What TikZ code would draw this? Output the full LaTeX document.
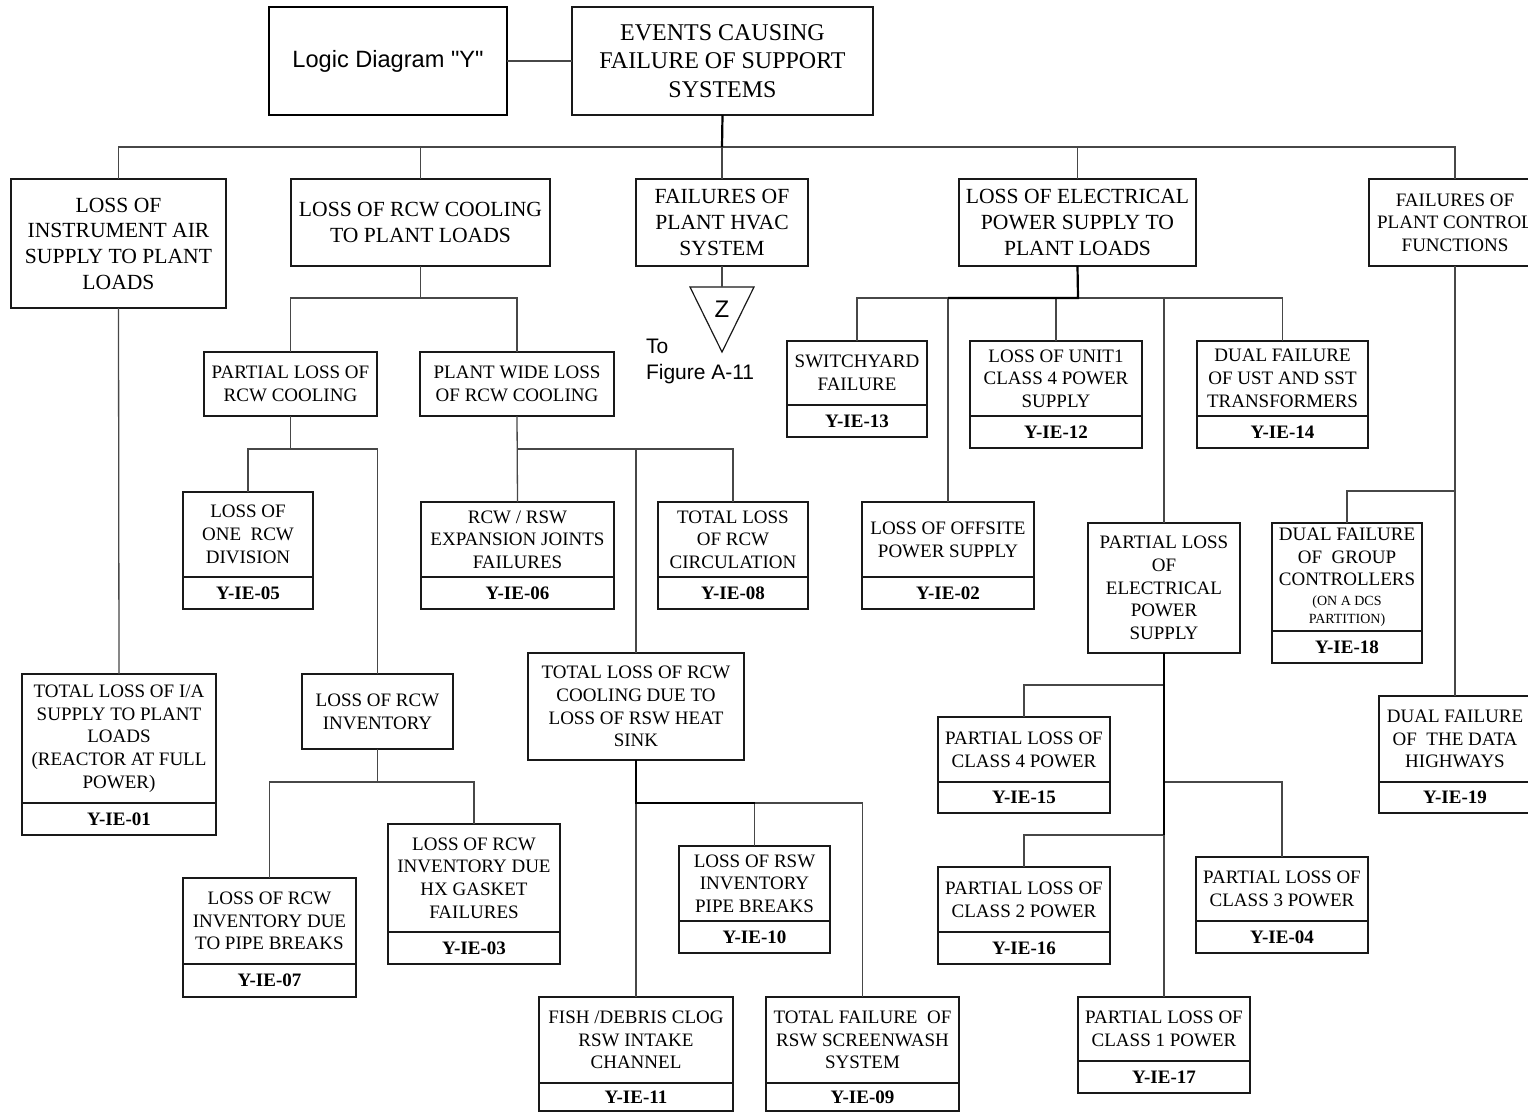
\documentclass[tikz,border=0pt]{standalone}
\usepackage{fontspec}
\setmainfont{Liberation Serif}
\newfontfamily\arialfont{Liberation Sans}

% plain event box: style, name, x1, y1, x2, y2, text
\newcommand\plainbox[7]{%
  \node[frame,#1,minimum width={#5-#3},minimum height={#6-#4}]
    (#2) at ({(#3+#5)/2},{(#4+#6)/2}) {#7};}
% event box with identifier row: name, x1, y1, x2, ydiv, y2, text, id
\newcommand\idevbox[8]{%
  \node[frame,mid,minimum width={#4-#2},minimum height={#5-#3}]
    (#1) at ({(#2+#4)/2},{(#3+#5)/2}) {#7};
  \node[frame,idtext,minimum width={#4-#2},minimum height={#6-#5}]
    (#1-id) at ({(#2+#4)/2},{(#5+#6)/2}) {#8};}

\begin{document}
\begin{tikzpicture}[x=1pt,y=-1pt,
  every node/.style={inner sep=0pt,outer sep=0pt},
  frame/.style={draw=black!90,line width=1.2pt,align=center,fill=white},
  huge/.style={font=\fontsize{24}{28.5}\selectfont},
  big/.style={font=\fontsize{21.6}{25.7}\selectfont},
  mid/.style={font=\fontsize{19}{22.7}\selectfont},
  idtext/.style={font=\fontsize{19}{22}\selectfont\bfseries},
  link/.style={draw=black!72,line width=1.3pt},
  trunk/.style={draw=black,line width=2.2pt},
]
\useasboundingbox (0,0) rectangle (1528,1112);
\clip (0,0) rectangle (1528,1112);

% ---------- connectors (drawn first, boxes cover their ends) ----------
\coordinate (bus) at (722,147);
\coordinate (jr) at (420.5,298);
\coordinate (jp) at (290.5,449);
\coordinate (ji) at (377.5,782);
\coordinate (jw) at (517,449);
\coordinate (jh) at (636,803);
\coordinate (zt) at (722,287);
\coordinate (je) at (1078,298);
\coordinate (j4) at (1164,685);
\coordinate (j3) at (1164,782);
\coordinate (j2) at (1164,835);
\coordinate (jc) at (1455,491);

% ---------- top ----------
\node[draw=black,line width=2pt,minimum width=238,minimum height=108,
      font=\arialfont\fontsize{23.6}{28}\selectfont]
  (logic) at (388,61) {Logic Diagram "Y"};
\plainbox{huge}{events}{572}{7}{873}{115}{EVENTS CAUSING\\FAILURE OF SUPPORT\\SYSTEMS}

% ---------- first level ----------
\plainbox{big}{air}{11}{179}{226}{308}{LOSS OF\\INSTRUMENT AIR\\SUPPLY TO PLANT\\LOADS}
\plainbox{big}{rcw}{291}{179}{550}{266}{LOSS OF RCW COOLING\\TO PLANT LOADS}
\plainbox{big}{hvac}{636}{179}{808}{266}{FAILURES OF\\PLANT HVAC\\SYSTEM}
\plainbox{big}{elec}{959}{179}{1196}{266}{LOSS OF ELECTRICAL\\POWER SUPPLY TO\\PLANT LOADS}
\plainbox{mid}{pc}{1369}{179}{1541}{266}{FAILURES OF\\PLANT CONTROL\\FUNCTIONS}

% ---------- instrument air ----------
\idevbox{tia}{22}{674}{216}{803}{835}{TOTAL LOSS OF I/A\\SUPPLY TO PLANT\\LOADS\\(REACTOR AT FULL\\POWER)}{Y-IE-01}

% ---------- RCW cooling ----------
\plainbox{mid}{prcw}{204}{352}{377}{416}{PARTIAL LOSS OF\\RCW COOLING}
\plainbox{mid}{pw}{420}{352}{614}{416}{PLANT WIDE LOSS\\OF RCW COOLING}
\idevbox{div}{183}{492}{313}{577}{609}{LOSS OF\\ONE\ \ RCW\\DIVISION}{Y-IE-05}
\plainbox{mid}{inv}{302}{674}{453}{749}{LOSS OF RCW\\INVENTORY}
\idevbox{pipe}{183}{878}{356}{964}{997}{LOSS OF RCW\\INVENTORY DUE\\TO PIPE BREAKS}{Y-IE-07}
\idevbox{hx}{388}{824}{560}{932}{964}{LOSS OF RCW\\INVENTORY DUE\\HX GASKET\\FAILURES}{Y-IE-03}
\idevbox{exp}{421}{502}{614}{577}{609}{RCW / RSW\\EXPANSION JOINTS\\FAILURES}{Y-IE-06}
\idevbox{circ}{658}{502}{808}{577}{609}{TOTAL LOSS\\OF RCW\\CIRCULATION}{Y-IE-08}
\plainbox{mid}{hs}{528}{653}{744}{760}{TOTAL LOSS OF RCW\\COOLING DUE TO\\LOSS OF RSW HEAT\\SINK}
\idevbox{rswp}{679}{846}{830}{921}{953}{LOSS OF RSW\\INVENTORY\\PIPE BREAKS}{Y-IE-10}
\idevbox{fish}{539}{997}{733}{1083}{1111}{FISH /DEBRIS CLOG\\RSW INTAKE\\CHANNEL}{Y-IE-11}
\idevbox{screen}{766}{997}{959}{1083}{1111}{TOTAL FAILURE\ \ OF\\RSW SCREENWASH\\SYSTEM}{Y-IE-09}

% ---------- HVAC transfer ----------
\draw[draw=black!90,line width=1.2pt] (690,287) -- (754,287) -- (722,352) -- cycle;
\node[font=\arialfont\fontsize{24}{28}\selectfont] (zlabel) at (722,309) {Z};
\node[anchor=west,align=left,font=\arialfont\fontsize{21}{26}\selectfont]
  (tolabel) at (646,361) {To\\Figure A-11};

% ---------- electrical ----------
\idevbox{switch}{787}{341}{927}{405}{437}{SWITCHYARD\\FAILURE}{Y-IE-13}
\idevbox{unit}{970}{341}{1142}{416}{448}{LOSS OF UNIT1\\CLASS 4 POWER\\SUPPLY}{Y-IE-12}
\idevbox{ust}{1197}{341}{1368}{416}{448}{DUAL FAILURE\\OF UST AND SST\\TRANSFORMERS}{Y-IE-14}
\idevbox{offsite}{862}{502}{1034}{577}{609}{LOSS OF OFFSITE\\POWER SUPPLY}{Y-IE-02}
\plainbox{mid}{pe}{1088}{523}{1240}{653}{PARTIAL LOSS\\OF\\ELECTRICAL\\POWER\\SUPPLY}
\idevbox{cfour}{938}{717}{1110}{782}{813}{PARTIAL LOSS OF\\CLASS 4 POWER}{Y-IE-15}
\idevbox{ctwo}{938}{867}{1110}{932}{964}{PARTIAL LOSS OF\\CLASS 2 POWER}{Y-IE-16}
\idevbox{cthree}{1196}{857}{1368}{921}{953}{PARTIAL LOSS OF\\CLASS 3 POWER}{Y-IE-04}
\idevbox{cone}{1078}{997}{1250}{1061}{1093}{PARTIAL LOSS OF\\CLASS 1 POWER}{Y-IE-17}

% ---------- plant control ----------
\idevbox{gc}{1272}{523}{1422}{631}{663}{DUAL FAILURE\\OF\ \ GROUP\\CONTROLLERS\\[-3pt]{\fontsize{14}{17}\selectfont (ON A DCS}\\[-5pt]{\fontsize{14}{17}\selectfont PARTITION)}}{Y-IE-18}
\idevbox{dh}{1379}{696}{1531}{782}{813}{DUAL FAILURE\\OF\ \ THE DATA\\HIGHWAYS}{Y-IE-19}

% ---------- connectors ----------
\draw[link] (logic.east) -- (events.west);
\draw[link] (air.north) |- (bus);
\draw[link] (rcw.north) |- (bus);
\draw[link] (hvac.north) -- (bus);
\draw[link] (elec.north) |- (bus);
\draw[link] (pc.north) |- (bus);
\draw[trunk] (events.south) -- (bus);

\draw[link] (air.south) -- (tia.north);

\draw[link] (rcw.south) -- (jr);
\draw[link] (jr) -| (prcw.north);
\draw[link] (jr) -| (pw.north);
\draw[link] (prcw.south) -- (jp);
\draw[link] (jp) -| (div.north);
\draw[link] (jp) -| (inv.north);
\draw[link] (inv.south) -- (ji);
\draw[link] (ji) -| (pipe.north);
\draw[link] (ji) -| (hx.north);
\draw[link] (pw.south) -- (exp.north);
\draw[link] (jw) -| (circ.north);
\draw[link] (jw) -| (hs.north);
\draw[link] (hs.south) -- (fish.north);
\draw[link] (jh) -| (rswp.north);
\draw[link] (jh) -| (screen.north);
\draw[trunk] (hs.south) -- (jh) -- (jh -| rswp.north);

\draw[link] (hvac.south) -- (zt);

\draw[link] (je) -| (switch.north);
\draw[link] (je) -| (offsite.north);
\draw[link] (je) -| (unit.north);
\draw[link] (je) -| (pe.north);
\draw[link] (je) -| (ust.north);
\draw[trunk] (elec.south) -- (je) -- (je -| offsite.north);

\draw[link] (pe.south) -- (cone.north);
\draw[link] (j4) -| (cfour.north);
\draw[link] (j3) -| (cthree.north);
\draw[link] (j2) -| (ctwo.north);
\draw[trunk] (pe.south) -- (j2);

\draw[link] (pc.south) -- (dh.north);
\draw[link] (jc) -| (gc.north);
\end{tikzpicture}
\end{document}
